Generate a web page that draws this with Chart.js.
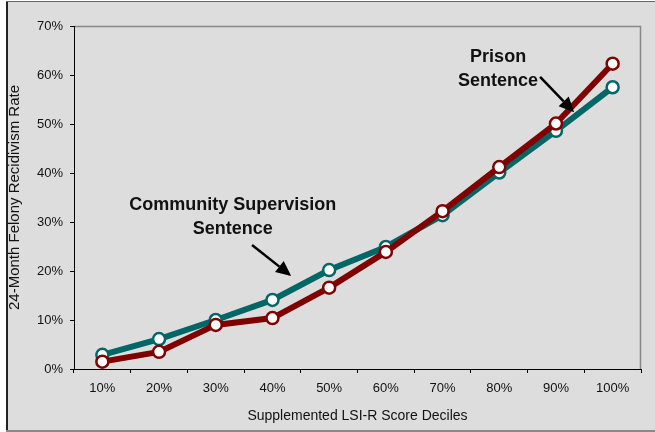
<!DOCTYPE html>
<html>
<head>
<meta charset="utf-8">
<script src="https://cdn.jsdelivr.net/npm/chart.js@4/dist/chart.umd.min.js"></script>
<style>
  html, body { margin: 0; padding: 0; background: #fff; }
  #wrap { width: 655px; height: 432px; }
</style>
</head>
<body>
<div id="wrap"><canvas id="myChart" width="655" height="432"></canvas></div>
<script>
// Категории и значения (в процентах)
const deciles = ['10%', '20%', '30%', '40%', '50%', '60%', '70%', '80%', '90%', '100%'];
const communityRates = [2.9, 6.1, 10.0, 14.1, 20.2, 24.9, 31.4, 40.1, 48.6, 57.5];
const prisonRates = [1.5, 3.5, 9.0, 10.4, 16.6, 23.9, 32.2, 41.2, 50.1, 62.3];

// Подписи и стрелки (координаты в единицах осей)
const notes = [
  { lines: ['Community Supervision', 'Sentence'], x: 2.3, y: 33.5 },
  { lines: ['Prison', 'Sentence'], x: 6.98, y: 63.7 }
];
const arrows = [
  { from: [2.64, 25.3], to: [3.33, 19.0] },
  { from: [7.72, 59.6], to: [8.32, 52.4] }
];

const frame = {
  id: 'frame',
  beforeDraw(chart) {
    const ctx = chart.ctx;
    ctx.save();
    ctx.fillStyle = '#fff';
    ctx.fillRect(0, 0, chart.width, chart.height);
    ctx.fillStyle = '#dddddd';
    ctx.fillRect(6, 1, 649, 431);
    // рамка снаружи
    ctx.fillStyle = '#222';
    ctx.fillRect(6, 1, 2, 431);
    ctx.fillStyle = '#666';
    ctx.fillRect(6, 1, 649, 1);
    ctx.fillStyle = '#888';
    ctx.fillRect(6, 430, 649, 2);
    // верх и правый край области графика
    const a = chart.chartArea;
    ctx.strokeStyle = '#888';
    ctx.lineWidth = 1.5;
    ctx.beginPath();
    ctx.moveTo(a.left, a.top + 0.5);
    ctx.lineTo(a.right - 0.5, a.top + 0.5);
    ctx.lineTo(a.right - 0.5, a.bottom);
    ctx.stroke();
    ctx.restore();
  },
  afterDatasetsDraw(chart) {
    const ctx = chart.ctx;
    const xs = chart.scales.x, ys = chart.scales.y;
    ctx.save();
    ctx.fillStyle = '#111';
    ctx.font = 'bold 18px "Liberation Sans", Arial, sans-serif';
    ctx.textAlign = 'center';
    ctx.textBaseline = 'middle';
    notes.forEach(n => {
      const px = xs.getPixelForValue(n.x), py = ys.getPixelForValue(n.y);
      n.lines.forEach((t, i) => ctx.fillText(t, px, py + i * 24));
    });
    ctx.strokeStyle = '#000';
    ctx.fillStyle = '#000';
    ctx.lineWidth = 2.5;
    arrows.forEach(a => {
      const x1 = xs.getPixelForValue(a.from[0]), y1 = ys.getPixelForValue(a.from[1]);
      const x2 = xs.getPixelForValue(a.to[0]), y2 = ys.getPixelForValue(a.to[1]);
      const ang = Math.atan2(y2 - y1, x2 - x1);
      const hl = 15, hw = 7;
      const bx = x2 - hl * Math.cos(ang), by = y2 - hl * Math.sin(ang);
      ctx.beginPath();
      ctx.moveTo(x1, y1);
      ctx.lineTo(bx, by);
      ctx.stroke();
      ctx.beginPath();
      ctx.moveTo(x2, y2);
      ctx.lineTo(bx + hw * Math.sin(ang), by - hw * Math.cos(ang));
      ctx.lineTo(bx - hw * Math.sin(ang), by + hw * Math.cos(ang));
      ctx.closePath();
      ctx.fill();
    });
    ctx.restore();
  }
};

Chart.defaults.font.family = '"Liberation Sans", Arial, sans-serif';
Chart.defaults.color = '#111';

new Chart(document.getElementById('myChart').getContext('2d'), {
  type: 'line',
  data: {
    labels: deciles,
    datasets: [
      {
        label: 'Community Supervision Sentence',
        data: communityRates,
        order: 1,
        borderColor: '#006666',
        backgroundColor: '#ffffff',
        borderWidth: 6,
        pointRadius: 6,
        pointBorderWidth: 2.5,
        pointBorderColor: '#006666',
        pointBackgroundColor: '#ffffff',
        tension: 0
      },
      {
        label: 'Prison Sentence',
        data: prisonRates,
        order: 0,
        borderColor: '#800000',
        backgroundColor: '#ffffff',
        borderWidth: 6,
        pointRadius: 6,
        pointBorderWidth: 2.5,
        pointBorderColor: '#800000',
        pointBackgroundColor: '#ffffff',
        tension: 0
      }
    ]
  },
  options: {
    responsive: false,
    animation: false,
    layout: { padding: { left: 0, top: 26, right: 14, bottom: 0 } },
    plugins: { legend: { display: false }, tooltip: { enabled: false } },
    scales: {
      x: {
        offset: true,
        grid: { offset: true, drawOnChartArea: false, drawTicks: true, tickLength: 4, color: '#000' },
        border: { display: true, color: '#000', width: 1 },
        ticks: { padding: 8, font: { size: 13 }, maxRotation: 0 },
        title: { display: true, text: 'Supplemented LSI-R Score Deciles', font: { size: 14 }, padding: { top: 7, bottom: 7 } },
        afterFit: s => { s.height = 63; }
      },
      y: {
        min: 0,
        max: 70,
        grid: { drawOnChartArea: false, drawTicks: true, tickLength: 4, color: '#000' },
        border: { display: true, color: '#000', width: 1 },
        ticks: { stepSize: 10, padding: 7, font: { size: 13 }, callback: v => v + '%' },
        title: { display: true, text: '24-Month Felony Recidivism Rate', font: { size: 15 }, padding: { top: 6, bottom: 6 } },
        afterFit: s => { s.width = 74; }
      }
    }
  },
  plugins: [frame]
});
</script>
</body>
</html>
